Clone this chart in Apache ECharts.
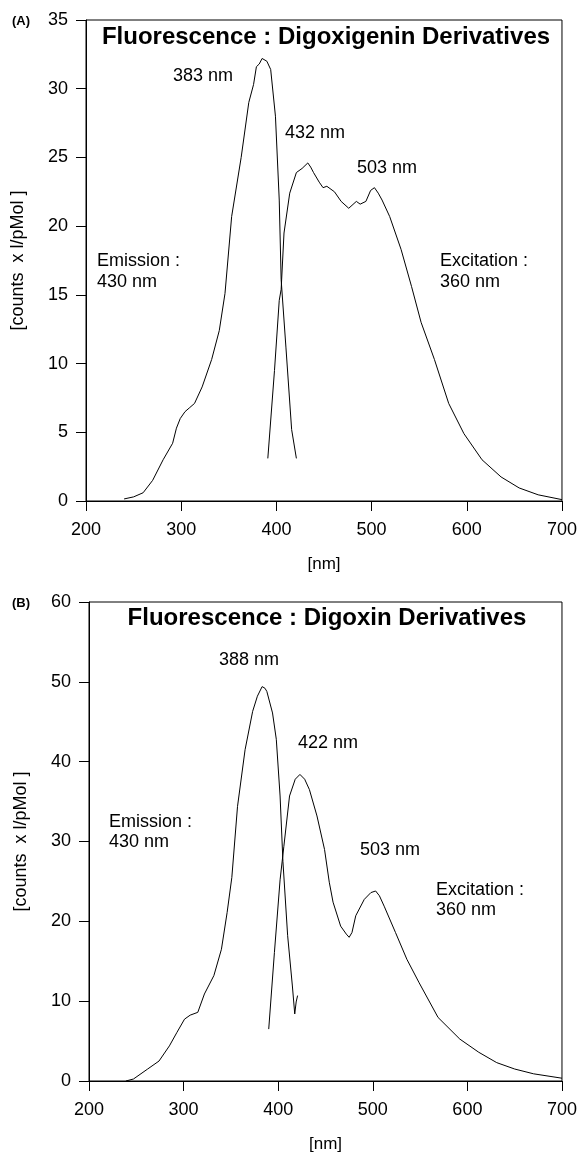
<!DOCTYPE html>
<html lang="en">
<head>
<meta charset="UTF-8">
<title>Fluorescence</title>
<script src="https://cdn.jsdelivr.net/npm/echarts@6/dist/echarts.min.js"></script>
<style>
  html, body { margin: 0; padding: 0; background: #fff; }
  #chart { width: 580px; height: 1154px; }
</style>
</head>
<body>
<div id="chart"></div>
<script type="text/javascript">
// ---- data: [nm, counts x l/pMol] ----
var xTicks = [200, 300, 400, 500, 600, 700];

// (A) Digoxigenin derivatives
var emissionA = [
  [240, 0.15], [250, 0.3], [260, 0.6], [270, 1.5], [281, 3.0], [291, 4.2], [295, 5.3],
  [299, 6.0], [304, 6.5], [309, 6.8], [314, 7.1], [322, 8.3], [332, 10.3], [340, 12.4],
  [346, 15.1], [353, 20.7], [363, 25.0], [371, 29.0], [376, 30.3], [379, 31.6], [382, 31.8],
  [385, 32.2], [387, 32.3], [390, 32.0], [394, 31.4], [399, 28.0], [403, 21.9], [405, 16.1],
  [410, 11.2], [416, 5.2], [421, 3.1]
];
var excitationA = [
  [391, 3.1], [398, 9.5], [403, 14.6], [405, 15.4], [408, 19.5], [414, 22.4], [421, 23.9],
  [427, 24.2], [433, 24.6], [436, 24.3], [439, 23.9], [445, 23.2], [449, 22.8], [453, 22.9],
  [461, 22.5], [468, 21.8], [476, 21.3], [484, 21.8], [488, 21.6], [494, 21.8], [499, 22.6],
  [503, 22.8], [507, 22.4], [511, 21.9], [519, 20.7], [531, 18.3], [542, 15.6], [552, 13.0],
  [566, 10.3], [581, 7.1], [597, 4.9], [616, 3.0], [636, 1.75], [655, 0.95], [675, 0.45],
  [700, 0.1]
];

// (B) Digoxin derivatives
var emissionB = [
  [239, 0], [247, 0.25], [262, 1.5], [274, 2.5], [285, 4.4], [293, 6.1], [301, 7.75],
  [307, 8.25], [315, 8.6], [322, 10.9], [332, 13.2], [340, 16.5], [346, 21.1], [351, 25.5],
  [357, 34.4], [365, 41.5], [373, 46.3], [378, 48.2], [383, 49.4], [386, 49.2], [388, 48.8],
  [394, 46.1], [398, 42.8], [402, 35.7], [405, 27.5], [410, 18.2], [415, 11.9], [417.5, 8.4],
  [419, 9.9], [420.5, 10.7]
];
var excitationB = [
  [390, 6.5], [396, 16.1], [402, 25.2], [406, 29.4], [412, 35.7], [418, 37.8], [423, 38.4],
  [428, 37.8], [433, 36.5], [441, 33.2], [449, 29.0], [454, 24.9], [458, 22.4], [466, 19.4],
  [472, 18.4], [475, 18.0], [478, 18.6], [482, 20.7], [491, 22.75], [498, 23.6], [503, 23.8],
  [507, 23.2], [512, 21.9], [524, 18.6], [536, 15.25], [549, 12.3], [569, 7.96], [592, 5.25],
  [612, 3.6], [631, 2.3], [650, 1.5], [670, 0.9], [700, 0.35]
];

var font = '"Liberation Sans", Arial, Helvetica, sans-serif';
var myChart = echarts.init(document.getElementById('chart'));

function xAxisFor(gridIndex) {
  return {
    type: 'value', gridIndex: gridIndex, min: xTicks[0], max: xTicks[xTicks.length - 1], interval: 100,
    name: '[nm]', nameLocation: 'middle', nameGap: 55,
    nameTextStyle: { fontFamily: font, fontSize: 17, color: '#000' },
    axisLine: { onZero: false, lineStyle: { color: '#000', width: 1 } },
    axisTick: { length: 10, lineStyle: { color: '#000' } },
    axisLabel: { fontFamily: font, fontSize: 18, color: '#000', margin: 20 },
    splitLine: { show: false }
  };
}
function yAxisFor(gridIndex, max, interval) {
  return {
    type: 'value', gridIndex: gridIndex, min: 0, max: max, interval: interval,
    name: '[counts  x l/pMol ]', nameLocation: 'middle', nameGap: 59, nameRotate: 90,
    nameTextStyle: { fontFamily: font, fontSize: 18, color: '#000' },
    axisLine: { show: true, lineStyle: { color: '#000', width: 1 } },
    axisTick: { show: true, length: 10, lineStyle: { color: '#000' } },
    axisLabel: { fontFamily: font, fontSize: 18, color: '#000', margin: 18 },
    splitLine: { show: false }
  };
}
function line(data, i) {
  return {
    type: 'line', data: data, xAxisIndex: i, yAxisIndex: i,
    showSymbol: false, symbol: 'none', silent: true,
    lineStyle: { color: '#000', width: 1 }
  };
}
function txt(x, y, text, size, bold, align) {
  return {
    type: 'text', x: x, y: y, silent: true,
    style: {
      text: text, fill: '#000', fontFamily: font, fontSize: size,
      fontWeight: bold ? 'bold' : 'normal', align: align || 'left', verticalAlign: 'middle'
    }
  };
}

var options = {
  backgroundColor: '#fff',
  animation: false,
  grid: [
    { left: 86, right: 17, top: 20, bottom: 653, show: true, borderColor: '#000', borderWidth: 1 },
    { left: 89, right: 13, top: 602, bottom: 72, show: true, borderColor: '#000', borderWidth: 1 }
  ],
  xAxis: [xAxisFor(0), xAxisFor(1)],
  yAxis: [yAxisFor(0, 35, 5), yAxisFor(1, 60, 10)],
  series: [line(emissionA, 0), line(excitationA, 0), line(emissionB, 1), line(excitationB, 1)],
  graphic: [
    txt(12, 21, '(A)', 13, true),
    txt(326, 37, 'Fluorescence : Digoxigenin Derivatives', 24, true, 'center'),
    txt(173, 76, '383 nm', 18),
    txt(285, 133, '432 nm', 18),
    txt(357, 168, '503 nm', 18),
    txt(97, 261, 'Emission :', 18),
    txt(97, 282, '430 nm', 18),
    txt(440, 261, 'Excitation :', 18),
    txt(440, 282, '360 nm', 18),

    txt(12, 603, '(B)', 13, true),
    txt(327, 618, 'Fluorescence : Digoxin Derivatives', 24, true, 'center'),
    txt(219, 660, '388 nm', 18),
    txt(298, 743, '422 nm', 18),
    txt(360, 850, '503 nm', 18),
    txt(109, 822, 'Emission :', 18),
    txt(109, 842, '430 nm', 18),
    txt(436, 890, 'Excitation :', 18),
    txt(436, 910, '360 nm', 18)
  ]
};
myChart.setOption(options);
</script>
</body>
</html>
